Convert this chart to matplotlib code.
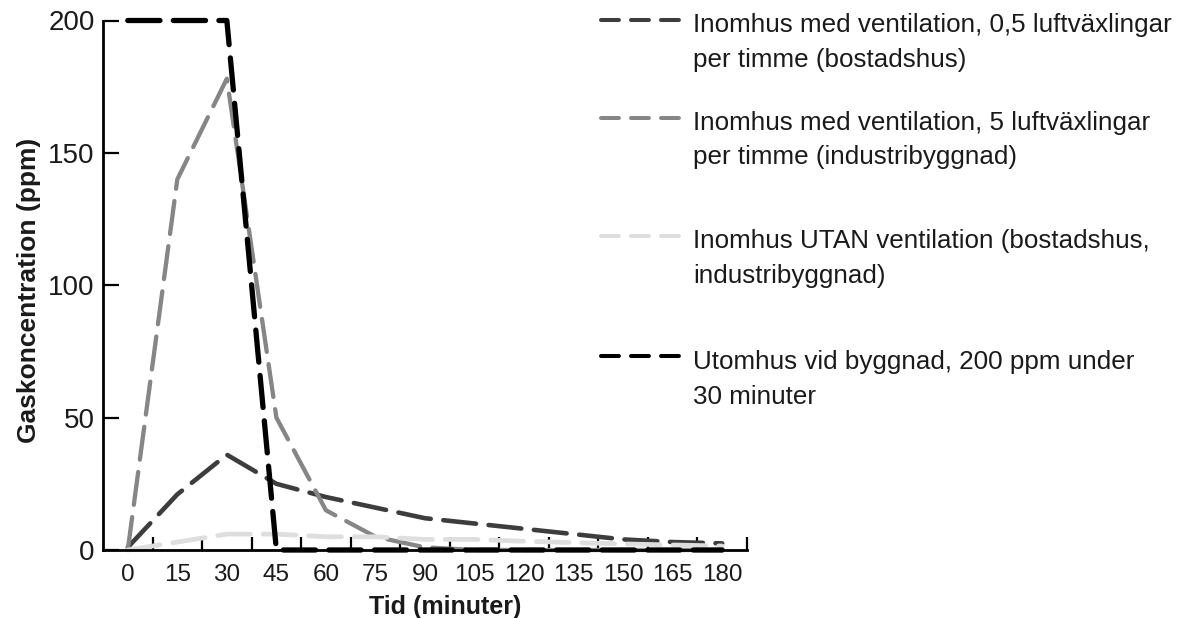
import matplotlib
matplotlib.use("Agg")
import matplotlib.pyplot as plt
from matplotlib.lines import Line2D

plt.rcParams['font.family'] = ['Liberation Sans', 'DejaVu Sans']
plt.rcParams['lines.scale_dashes'] = False

# data
minutes = [0, 15, 30, 45, 60, 75, 90, 105, 120, 135, 150, 165, 180]
ppm_vent_05 = [1, 21, 36, 25, 20, 16, 12, 10, 8, 6, 4, 3, 2.5]
ppm_vent_5 = [0, 140, 178, 50, 15, 5, 1, 0, 0, 0, 0, 0, 0]
ppm_no_vent = [0, 3, 6, 6, 5, 5, 4, 4, 3.3, 2.8, 2.3, 1.9, 1.5]
ppm_outdoor = [200, 200, 200, 0, 0, 0, 0, 0, 0, 0, 0, 0, 0]

labels = ['Inomhus med ventilation, 0,5 luftväxlingar\nper timme (bostadshus)',
          'Inomhus med ventilation, 5 luftväxlingar\nper timme (industribyggnad)',
          'Inomhus UTAN ventilation (bostadshus,\nindustribyggnad)',
          'Utomhus vid byggnad, 200 ppm under\n30 minuter']
colors = ['#3d3d3d', '#868686', '#dedede', '#000000']
widths = [3.3, 3.1, 3.4, 3.8]

W, H = 1186, 618
fig = plt.figure(figsize=(W / 100, H / 100), dpi=100)
ax = fig.add_axes([103 / W, 1 - 550 / H, 644 / W, 529.5 / H])


def dash_style(lw, vis_on, vis_off):
    # visible lengths in points, round caps eat lw/2 on each end
    return (0, (vis_on - lw, vis_off + lw))


series = [ppm_vent_05, ppm_vent_5, ppm_no_vent, ppm_outdoor]
for vals, col, lw in zip(series, colors, widths):
    ax.plot(minutes, vals, color=col, lw=lw, linestyle=dash_style(lw, 27, 5.8),
            dash_capstyle='round', clip_on=False)

ax.set_xlim(-7.5, 187.5)
ax.set_ylim(0, 200)
ax.set_xticks(minutes)
ax.set_xticks([7.5 + 15 * k for k in range(13)], minor=True)
ax.set_yticks([0, 50, 100, 150, 200])
ax.tick_params(axis='x', which='major', length=0, pad=10, labelsize=17.5, colors='#1a1a1a')
ax.tick_params(axis='x', which='minor', direction='in', length=9.5, width=1.6, color='black')
ax.tick_params(axis='y', direction='in', length=11.5, width=1.6, pad=6, labelsize=20,
               color='black', labelcolor='#1a1a1a')

for s in ['top', 'right']:
    ax.spines[s].set_visible(False)
for s in ['left', 'bottom']:
    ax.spines[s].set_linewidth(2)

fig.text(445 / W, 1 - 614 / H, 'Tid (minuter)', ha='center', va='baseline',
         fontsize=18, fontweight='bold', color='#1a1a1a')
fig.text(29 / W, 1 - 290 / H, 'Gaskoncentration (ppm)', ha='center', va='center',
         rotation=90, fontsize=19, fontweight='bold', color='#1a1a1a')

# legend, drawn by hand to keep the uneven spacing
handle_y = [20, 118, 236, 356]
first_base = [31, 129, 247, 368]
for lab, col, hy, fb in zip(labels, colors, handle_y, first_base):
    fig.add_artist(Line2D([601 / W, 684 / W], [1 - hy / H, 1 - hy / H], transform=fig.transFigure,
                          color=col, lw=2.9, linestyle=dash_style(2.9, 15.8, 5.8),
                          dash_capstyle='round'))
    # va='baseline' sits on the last line, so shift by one line step
    fig.text(693 / W, 1 - (fb + 35.5) / H, lab, ha='left', va='baseline', fontsize=18.7,
             linespacing=1.55, color='#1a1a1a')

fig.savefig('out.png', dpi=100)
